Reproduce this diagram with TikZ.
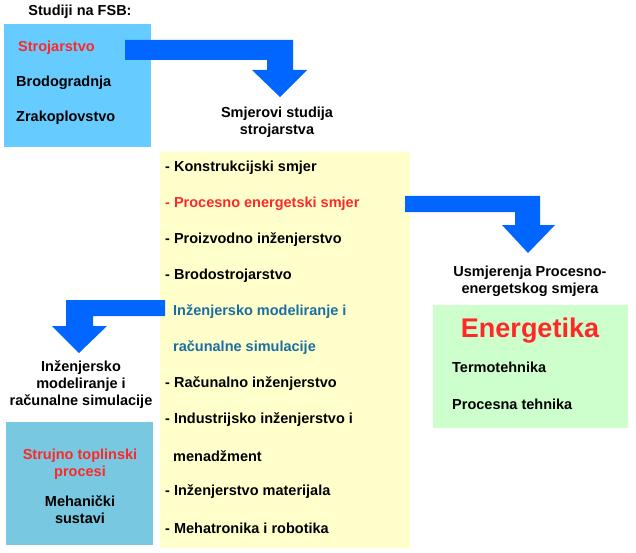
\documentclass[tikz,border=0pt]{standalone}
\usepackage{fontspec}
\setmainfont{Liberation Sans}
\definecolor{skyblue}{RGB}{102,204,255}
\definecolor{paleyellow}{RGB}{255,255,204}
\definecolor{palegreen}{RGB}{204,255,204}
\definecolor{seablue}{RGB}{119,200,224}
\definecolor{arrowblue}{RGB}{0,102,255}
\definecolor{hired}{RGB}{255,40,40}
\definecolor{teal2}{RGB}{26,110,160}
\begin{document}
\begin{tikzpicture}[x=1pt, y=-1pt,
  txt/.style = {font=\fontsize{14.5}{17}\selectfont\bfseries, inner sep=0pt, align=center},
  item/.style = {txt, anchor=west},
  hot/.style = {text=hired},
  bigarrow/.style = {fill=arrowblue, draw=none}]

\useasboundingbox (0,0) rectangle (636,553);

% Boxes
\fill[skyblue] (4,24) rectangle (151,147);
\fill[paleyellow] (160,152) rectangle (410,548);
\fill[palegreen] (433,305) rectangle (628,428);
\fill[seablue] (6,422) rectangle (153,545);

% Arrows
\fill[bigarrow] (125,40) -- (293,40) -- (293,70) -- (307,70) -- (280,97) -- (252,70) -- (267,70) -- (267,60) -- (125,60) -- cycle;
\fill[bigarrow] (405,196) -- (540,196) -- (540,225) -- (555,225) -- (528,253) -- (502,225) -- (515,225) -- (515,212) -- (405,212) -- cycle;
\fill[bigarrow] (165,300) -- (66,300) -- (66,326) -- (52,326) -- (79,353) -- (107,326) -- (93,326) -- (93,316) -- (165,316) -- cycle;

% Study programmes
\node[txt] (fsb) at (80,12) {Studiji na FSB:};
\node[item, hot] (stroj) at (18,48) {Strojarstvo};
\node[item] (brod) at (16,83) {Brodogradnja};
\node[item] (zrak) at (16,118) {Zrakoplovstvo};

\node[txt] (smjerovi) at (277,122) {Smjerovi studija\\strojarstva};

% List of courses
\node[item] (s1) at (165,168) {- Konstrukcijski smjer};
\node[item, hot] (s2) at (165,204) {- Procesno energetski smjer};
\node[item] (s3) at (165,240) {- Proizvodno inženjerstvo};
\node[item] (s4) at (165,276) {- Brodostrojarstvo};
\node[item, text=teal2] (s5) at (173,312) {Inženjersko modeliranje i};
\node[item, text=teal2] (s5b) at (173,348) {računalne simulacije};
\node[item] (s6) at (165,384) {- Računalno inženjerstvo};
\node[item] (s7) at (165,420) {- Industrijsko inženjerstvo i};
\node[item] (s7b) at (173,456) {menadžment};
\node[item] (s8) at (165,492) {- Inženjerstvo materijala};
\node[item] (s9) at (165,528) {- Mehatronika i robotika};

% Process-energy branch
\node[txt] (usmj) at (530,281) {Usmjerenja Procesno-\\energetskog smjera};
\node[txt, hot, font=\fontsize{27}{30}\selectfont\bfseries] (energ) at (530,331) {Energetika};
\node[item] (termo) at (452,367) {Termotehnika};
\node[item] (proc) at (452,404) {Procesna tehnika};

% Modelling branch
\node[txt] (model) at (81,385) {Inženjersko\\modeliranje i\\računalne simulacije};
\node[txt, hot] (strujno) at (80,464) {Strujno toplinski\\procesi};
\node[txt] (meh) at (80,510) {Mehanički\\sustavi};

\end{tikzpicture}
\end{document}
